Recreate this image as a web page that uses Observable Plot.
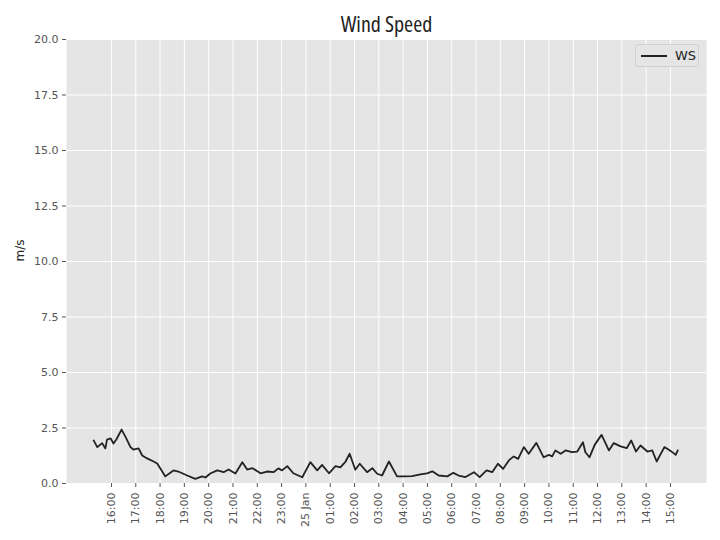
<!DOCTYPE html>
<html><head><meta charset="utf-8">
<script src="https://cdn.jsdelivr.net/npm/d3@7"></script>
<script src="https://cdn.jsdelivr.net/npm/@observablehq/plot@0.6"></script>
<style>
body{margin:0;background:#fff;}
#wrap{position:relative;width:720px;height:540px;}
#legend{position:absolute;left:635px;top:44px;width:64px;height:23px;border:1px solid #d0d0d0;border-radius:3px;background:#e5e5e5;box-sizing:border-box;}
#legend .sw{position:absolute;left:5px;top:10px;width:26px;height:2px;background:#222;}
#legend .lb{position:absolute;left:39px;top:3px;font:13px "DejaVu Sans",sans-serif;color:#222;}
.ttl{font-stretch:75%;font-family:"Open Sans","DejaVu Sans Condensed",sans-serif;}
</style>
</head><body><div id="wrap"></div>
<script>
const title = "Wind Speed";
const yLabel = "m/s";
const seriesName = "WS";
const times = [
"2024-01-24T15:16","2024-01-24T15:25","2024-01-24T15:37","2024-01-24T15:45","2024-01-24T15:49","2024-01-24T15:58",
"2024-01-24T16:05","2024-01-24T16:12","2024-01-24T16:25","2024-01-24T16:35","2024-01-24T16:47","2024-01-24T16:54",
"2024-01-24T17:07","2024-01-24T17:16","2024-01-24T17:28","2024-01-24T17:44","2024-01-24T17:53","2024-01-24T18:13",
"2024-01-24T18:33","2024-01-24T18:45","2024-01-24T19:07","2024-01-24T19:27","2024-01-24T19:44","2024-01-24T19:52",
"2024-01-24T20:04","2024-01-24T20:21","2024-01-24T20:37","2024-01-24T20:49","2024-01-24T21:06","2024-01-24T21:23",
"2024-01-24T21:35","2024-01-24T21:48","2024-01-24T22:08","2024-01-24T22:24","2024-01-24T22:40","2024-01-24T22:52",
"2024-01-24T23:01","2024-01-24T23:14","2024-01-24T23:29","2024-01-24T23:51","2024-01-25T00:11","2024-01-25T00:28",
"2024-01-25T00:40","2024-01-25T00:57","2024-01-25T01:13","2024-01-25T01:25","2024-01-25T01:38","2024-01-25T01:48",
"2024-01-25T02:02","2024-01-25T02:13","2024-01-25T02:31","2024-01-25T02:44","2024-01-25T02:56","2024-01-25T03:08",
"2024-01-25T03:25","2024-01-25T03:45","2024-01-25T04:02","2024-01-25T04:22","2024-01-25T04:43","2024-01-25T04:59",
"2024-01-25T05:12","2024-01-25T05:28","2024-01-25T05:49","2024-01-25T06:04","2024-01-25T06:17","2024-01-25T06:34",
"2024-01-25T06:55","2024-01-25T07:09","2024-01-25T07:26","2024-01-25T07:40","2024-01-25T07:54","2024-01-25T08:07",
"2024-01-25T08:21","2024-01-25T08:33","2024-01-25T08:44","2024-01-25T08:58","2024-01-25T09:10","2024-01-25T09:29",
"2024-01-25T09:47","2024-01-25T10:00","2024-01-25T10:08","2024-01-25T10:16","2024-01-25T10:29","2024-01-25T10:41",
"2024-01-25T10:57","2024-01-25T11:10","2024-01-25T11:24","2024-01-25T11:30","2024-01-25T11:40","2024-01-25T11:53",
"2024-01-25T12:03","2024-01-25T12:10","2024-01-25T12:28","2024-01-25T12:40","2024-01-25T12:57","2024-01-25T13:12",
"2024-01-25T13:23","2024-01-25T13:35","2024-01-25T13:46","2024-01-25T14:03","2024-01-25T14:15","2024-01-25T14:26",
"2024-01-25T14:45","2024-01-25T14:56","2024-01-25T15:07","2024-01-25T15:13","2024-01-25T15:18"
];
const ws = [
1.94,1.64,1.82,1.58,1.98,2.03,
1.80,1.98,2.43,2.09,1.64,1.53,
1.58,1.26,1.13,0.99,0.90,0.32,
0.59,0.54,0.36,0.21,0.32,0.27,
0.45,0.59,0.51,0.63,0.45,0.96,
0.63,0.69,0.46,0.54,0.51,0.68,
0.59,0.78,0.46,0.28,0.96,0.59,
0.84,0.46,0.78,0.73,0.99,1.34,
0.62,0.89,0.51,0.69,0.44,0.36,
0.99,0.32,0.32,0.33,0.41,0.46,
0.55,0.36,0.32,0.48,0.36,0.29,
0.51,0.29,0.59,0.51,0.89,0.66,
1.04,1.22,1.11,1.64,1.34,1.83,
1.18,1.29,1.22,1.49,1.34,1.49,
1.41,1.44,1.86,1.41,1.18,1.74,
2.01,2.19,1.49,1.82,1.67,1.59,
1.94,1.44,1.71,1.44,1.49,0.99,
1.64,1.52,1.38,1.29,1.49
];
const xTicks = [
"2024-01-24T16:00","2024-01-24T17:00","2024-01-24T18:00","2024-01-24T19:00","2024-01-24T20:00","2024-01-24T21:00",
"2024-01-24T22:00","2024-01-24T23:00","2024-01-25T00:00","2024-01-25T01:00","2024-01-25T02:00","2024-01-25T03:00",
"2024-01-25T04:00","2024-01-25T05:00","2024-01-25T06:00","2024-01-25T07:00","2024-01-25T08:00","2024-01-25T09:00",
"2024-01-25T10:00","2024-01-25T11:00","2024-01-25T12:00","2024-01-25T13:00","2024-01-25T14:00","2024-01-25T15:00"
];
const xTickLabels = ["16:00","17:00","18:00","19:00","20:00","21:00","22:00","23:00","25 Jan","01:00","02:00","03:00",
"04:00","05:00","06:00","07:00","08:00","09:00","10:00","11:00","12:00","13:00","14:00","15:00"];
const yTicks = [0,2.5,5,7.5,10,12.5,15,17.5,20];
const xDomain = ["2024-01-24T14:09","2024-01-25T16:29"];

const toDate = s => new Date(s + ":00Z");
const data = times.map((t,i)=>({time: toDate(t), ws: ws[i]}));
const tickDates = xTicks.map(toDate);
const labelMap = new Map(tickDates.map((d,i)=>[+d, xTickLabels[i]]));

const chart = Plot.plot({
  width:720, height:540,
  marginLeft:66, marginRight:14, marginTop:39, marginBottom:57,
  style:{fontFamily:"DejaVu Sans", fontSize:"11px", color:"#555", background:"#fff", overflow:"visible"},
  x:{type:"utc", domain: xDomain.map(toDate)},
  y:{domain:[0,20]},
  marks:[
    Plot.frame({fill:"#e5e5e5", stroke:null}),
    Plot.gridX(tickDates,{stroke:"#fff", strokeOpacity:1, strokeWidth:1}),
    Plot.gridY(yTicks,{stroke:"#fff", strokeOpacity:1, strokeWidth:1}),
    Plot.axisX(tickDates,{tickFormat:d=>labelMap.get(+d), tickRotate:-90, tickSize:4, tickPadding:5, stroke:"#555", fill:"#555", label:null}),
    Plot.axisY(yTicks,{tickFormat:d3.format(".1f"), tickSize:4, tickPadding:4, stroke:"#555", fill:"#555", label:null}),
    Plot.text([yLabel],{frameAnchor:"left", rotate:-90, dx:-46, fontSize:12, fill:"#222"}),
    Plot.line(data,{x:"time", y:"ws", stroke:"#222", strokeWidth:1.8}),
    Plot.text([title],{frameAnchor:"top", lineAnchor:"middle", dy:-15, fontSize:22, fill:"#222", className:"ttl"})
  ]
});
const wrap = document.getElementById("wrap");
wrap.appendChild(chart);
const lg = document.createElement("div");
lg.id = "legend";
lg.innerHTML = '<div class="sw"></div><div class="lb"></div>';
lg.querySelector(".lb").textContent = seriesName;
wrap.appendChild(lg);
</script>
</body></html>
